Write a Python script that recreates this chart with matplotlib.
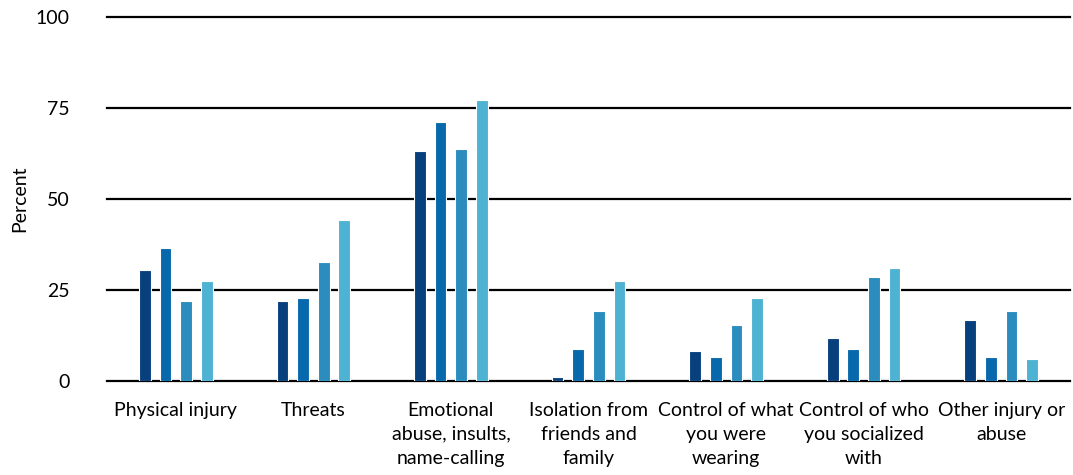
import matplotlib.pyplot as plt
import numpy as np

plt.rcParams['font.family'] = ['Lato', 'DejaVu Sans']

categories = ["Physical injury", "Threats", "Emotional\nabuse, insults,\nname-calling",
              "Isolation from\nfriends and\nfamily", "Control of what\nyou were\nwearing",
              "Control of who\nyou socialized\nwith", "Other injury or\nabuse"]
series1 = [30.5, 22.0, 63.2, 1.0, 8.2, 11.7, 16.8]
series2 = [36.6, 22.9, 71.2, 8.7, 6.6, 8.7, 6.6]
series3 = [22.0, 32.6, 63.6, 19.3, 15.3, 28.5, 19.3]
series4 = [27.5, 44.2, 77.3, 27.5, 22.9, 31.0, 6.0]
yticks = [0, 25, 50, 75, 100]

colors = ['#08407e', '#0868ac', '#2b8cbe', '#4eb3d3']

fig = plt.figure(figsize=(10.73, 4.75), dpi=100)
ax = fig.add_axes([107/1073, 1-381/475, 963/1073, 364/475])

x = np.arange(len(categories))
step = 0.15
width = 0.085
for k, vals in enumerate([series1, series2, series3, series4]):
    ax.bar(x + (k-1.5)*step, vals, width, color=colors[k],
           edgecolor='white', linewidth=0.8, zorder=3)

ax.set_xlim(-0.5, len(categories)-0.5)
ax.set_ylim(0, 100)
ax.set_yticks(yticks)
ax.set_yticklabels([str(t) for t in yticks])
for t in yticks:
    ax.axhline(t, color='black', lw=1.6, zorder=1, clip_on=False)
ax.set_xticks(x)
ax.set_xticklabels(categories, fontsize=14, linespacing=1.5, va='top')
ax.tick_params(axis='both', length=0, labelsize=14)
ax.tick_params(axis='y', pad=27)
ax.tick_params(axis='x', pad=15)
for s in ax.spines.values():
    s.set_visible(False)
ax.set_ylabel('Percent', fontsize=14, labelpad=5)

plt.savefig('out.png', dpi=100)
